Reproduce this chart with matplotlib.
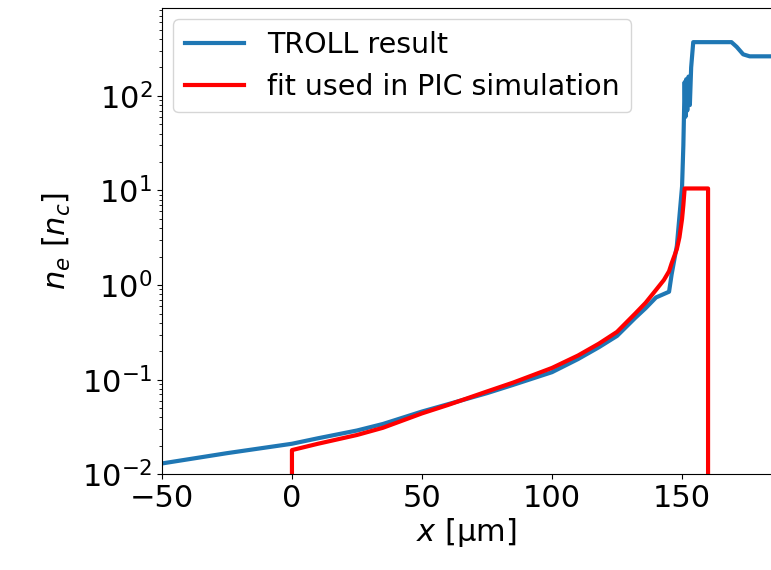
import numpy as np
import matplotlib.pyplot as plt

# TROLL result (blue)
troll_x = [-50, -25, 0, 10, 25, 35, 50, 60, 75, 85, 100, 110, 118, 125,
           132, 136, 140, 145, 146, 148, 150,
           150.5, 151, 151.3, 151.6, 152, 152.5, 153, 153.5, 154.3,
           169, 171, 173.5, 176, 185]
troll_n = [0.013, 0.0167, 0.021, 0.024, 0.029, 0.034, 0.046, 0.055, 0.072,
           0.088, 0.12, 0.165, 0.22, 0.29,
           0.45, 0.57, 0.74, 0.85, 1.3, 2.6, 11,
           30, 140, 60, 150, 70, 160, 80, 200, 370,
           370, 330, 275, 262, 262]

# fit used in PIC simulation (red)
fit_x = [0, 0, 10, 25, 35, 50, 60, 75, 85, 100, 110, 118, 125, 132, 136,
         140, 143, 145, 146, 148, 149, 150, 150.5, 151, 160, 160]
fit_n = [0.005, 0.018, 0.021, 0.026, 0.031, 0.044, 0.054, 0.075, 0.093,
         0.133, 0.18, 0.24, 0.32, 0.5, 0.65, 0.89, 1.13, 1.4, 1.7, 2.4,
         3.2, 5, 7, 10.5, 10.5, 0.005]

fig = plt.figure(figsize=(7.71, 5.70), dpi=100)
ax = fig.add_axes([0.210, 0.168, 0.79, 0.818])

ax.plot(troll_x, troll_n, color='#1f77b4', lw=3, label='TROLL result')
ax.plot(fit_x, fit_n, color='red', lw=3, label='fit used in PIC simulation')

ax.set_yscale('log')
ax.set_xlim(-50, 184.2)
ax.set_ylim(1e-2, 850)
ax.set_xticks([-50, 0, 50, 100, 150])
ax.spines['right'].set_visible(False)

ax.tick_params(labelsize=22)
ax.set_xlabel(r'$x$ [μm]', fontsize=22, labelpad=2)
ax.set_ylabel(r'$n_e$ [$n_c$]', fontsize=22, labelpad=6)

ax.legend(loc='upper left', fontsize=20.5, handlelength=2.1,
          borderaxespad=0.4)

fig.savefig('out.png', dpi=100)
